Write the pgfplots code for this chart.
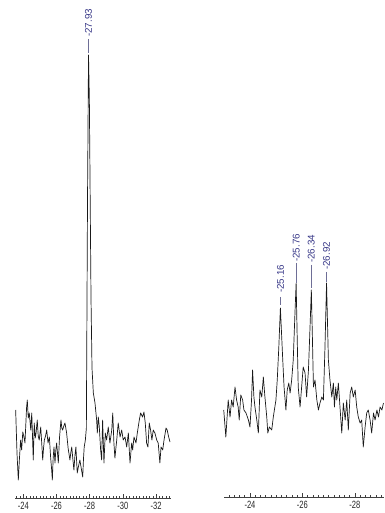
\documentclass[border=0pt]{standalone}
\usepackage{pgfplots}
\pgfplotsset{compat=1.18}
\usepackage{fontspec}
\setmainfont{Liberation Sans}
\definecolor{lblue}{RGB}{55,55,135}
\definecolor{lline}{RGB}{110,110,150}
\tikzset{
  spec/.style={black!90, line width=0.7pt, line join=round},
  conn/.style={lline, line width=0.6pt},
  plab/.style={rotate=90, font=\fontsize{9.8}{10}\selectfont, text=lblue, inner sep=0pt},
}
\pgfplotsset{
  nmr/.style={
    scale only axis,
    axis x line*=bottom,
    axis y line=none,
    ytick=\empty,
    x dir=reverse,
    ymin=0,
    clip=false,
    x axis line style={-, black!75, line width=0.55pt},
    tick align=inside,
    major tick length=4.5pt,
    minor tick length=2.5pt,
    every tick/.style={black!75, line width=0.45pt},
    xticklabel style={font=\fontsize{10.5}{11}\selectfont, text=black!85, xscale=0.72, yshift=-0.5pt},
  },
}
\begin{document}
\begin{tikzpicture}
\path[use as bounding box] (0,0) rectangle (384pt,513pt);
% left spectrum
\begin{axis}[nmr,
  at={(15pt,15pt)}, anchor=south west,
  width=156pt, height=498pt,
  xmin=-32.90, xmax=-23.50, ymax=498,
  xtick={-24,-26,-28,-30,-32},
  xticklabels={-24,-26,-28,-30,-32},
  minor xtick={-23.6,-23.8,-24.2,-24.4,-24.6,-24.8,-25,-25.2,-25.4,-25.6,-25.8,-26.2,-26.4,-26.6,-26.8,-27,-27.2,-27.4,-27.6,-27.8,-28.2,-28.4,-28.6,-28.8,-29,-29.2,-29.4,-29.6,-29.8,-30.2,-30.4,-30.6,-30.8,-31,-31.2,-31.4,-31.6,-31.8,-32.2,-32.4,-32.6,-32.8},
]
\addplot[spec] coordinates {
(-23.54,88) (-23.62,45) (-23.70,18) (-23.77,40) (-23.84,58) (-23.90,48) (-23.97,66) (-24.04,61) (-24.10,55) (-24.20,91) (-24.24,98) (-24.30,80) (-24.36,85) (-24.45,68) (-24.51,85) (-24.60,38) (-24.66,75) (-24.72,60) (-24.77,65) (-24.84,78) (-24.90,62) (-24.96,58) (-25.05,71) (-25.11,55) (-25.17,38) (-25.22,50) (-25.27,58) (-25.34,62) (-25.41,68) (-25.49,55) (-25.57,61) (-25.65,40) (-25.71,28) (-25.75,18) (-25.80,40) (-25.85,51) (-25.91,35) (-25.96,48) (-26.01,55) (-26.11,35) (-26.18,60) (-26.27,78) (-26.32,70) (-26.37,68) (-26.44,72) (-26.51,75) (-26.61,65) (-26.70,50) (-26.81,38) (-26.86,45) (-26.92,51) (-26.98,40) (-27.05,28) (-27.11,42) (-27.17,51) (-27.25,25) (-27.33,32) (-27.41,38) (-27.49,30) (-27.58,21) (-27.63,40) (-27.67,51) (-27.74,58) (-27.80,70) (-27.87,300) (-27.93,443) (-27.98,400) (-28.03,300) (-28.08,200) (-28.14,130) (-28.22,105) (-28.32,95) (-28.42,78) (-28.46,65) (-28.52,81) (-28.58,71) (-28.66,48) (-28.72,38) (-28.78,78) (-28.86,35) (-28.94,65) (-29.02,58) (-29.12,71) (-29.22,55) (-29.33,68) (-29.39,85) (-29.46,55) (-29.52,40) (-29.63,58) (-29.72,75) (-29.83,61) (-29.93,68) (-30.02,58) (-30.13,61) (-30.23,51) (-30.33,65) (-30.43,35) (-30.53,55) (-30.59,48) (-30.67,61) (-30.79,55) (-30.87,65) (-30.99,78) (-31.07,85) (-31.19,81) (-31.27,86) (-31.35,75) (-31.43,55) (-31.51,51) (-31.59,75) (-31.67,68) (-31.75,58) (-31.83,68) (-31.93,65) (-32.04,58) (-32.13,55) (-32.23,35) (-32.30,51) (-32.40,48) (-32.48,58) (-32.60,70) (-32.67,68) (-32.76,61) (-32.84,56)
};
\addplot[conn] coordinates {(-27.93,459) (-27.93,445)};
\node[plab, anchor=west] at (axis cs:-27.93,461) {-27.93};
\end{axis}
% right spectrum
\begin{axis}[nmr,
  at={(224pt,16pt)}, anchor=south west,
  width=160pt, height=497pt,
  xmin=-29.11, xmax=-23.01, ymax=497,
  xtick={-24,-26,-28},
  xticklabels={-24,-26,-28},
  minor xtick={-23.2,-23.4,-23.6,-23.8,-24.2,-24.4,-24.6,-24.8,-25,-25.2,-25.4,-25.6,-25.8,-26.2,-26.4,-26.6,-26.8,-27,-27.2,-27.4,-27.6,-27.8,-28.2,-28.4,-28.6,-28.8,-29},
]
\addplot[spec] coordinates {
(-23.00,87) (-23.08,60) (-23.17,97) (-23.24,80) (-23.30,97) (-23.36,90) (-23.43,110) (-23.49,97) (-23.55,90) (-23.59,77) (-23.65,102) (-23.72,97) (-23.77,87) (-23.85,84) (-23.94,77) (-24.00,70) (-24.06,97) (-24.10,127) (-24.15,100) (-24.19,90) (-24.26,77) (-24.32,64) (-24.38,107) (-24.45,100) (-24.51,120) (-24.57,100) (-24.64,80) (-24.68,64) (-24.74,70) (-24.83,67) (-24.89,80) (-24.99,97) (-25.04,117) (-25.10,150) (-25.16,189) (-25.21,160) (-25.25,137) (-25.30,110) (-25.37,87) (-25.42,107) (-25.48,114) (-25.53,104) (-25.59,117) (-25.65,137) (-25.71,180) (-25.76,214) (-25.80,160) (-25.84,110) (-25.91,90) (-25.97,110) (-26.03,130) (-26.10,124) (-26.16,100) (-26.23,127) (-26.29,170) (-26.34,207) (-26.38,160) (-26.42,110) (-26.48,117) (-26.55,97) (-26.61,87) (-26.67,94) (-26.74,100) (-26.80,97) (-26.86,150) (-26.92,214) (-26.96,170) (-26.99,137) (-27.05,117) (-27.12,100) (-27.18,114) (-27.22,90) (-27.27,110) (-27.31,97) (-27.37,114) (-27.44,87) (-27.50,64) (-27.56,94) (-27.63,77) (-27.69,97) (-27.75,67) (-27.82,104) (-27.88,110) (-27.94,100) (-28.01,107) (-28.07,90) (-28.13,80) (-28.20,74) (-28.26,77) (-28.32,50) (-28.39,70) (-28.45,84) (-28.51,87) (-28.58,77) (-28.64,64) (-28.71,84) (-28.77,77) (-28.84,87) (-28.90,80) (-28.96,90) (-29.03,87) (-29.09,94)
};
\addplot[conn] coordinates {(-25.16,200) (-25.16,192)};
\addplot[conn] coordinates {(-25.76,234) (-25.76,214)};
\addplot[conn] coordinates {(-26.34,232) (-26.34,209)};
\addplot[conn] coordinates {(-26.92,225) (-26.92,215)};
\node[plab, anchor=west] at (axis cs:-25.16,204) {-25.16};
\node[plab, anchor=west] at (axis cs:-25.76,235) {-25.76};
\node[plab, anchor=west] at (axis cs:-26.34,234) {-26.34};
\node[plab, anchor=west] at (axis cs:-26.92,227) {-26.92};
\end{axis}
\end{tikzpicture}
\end{document}
